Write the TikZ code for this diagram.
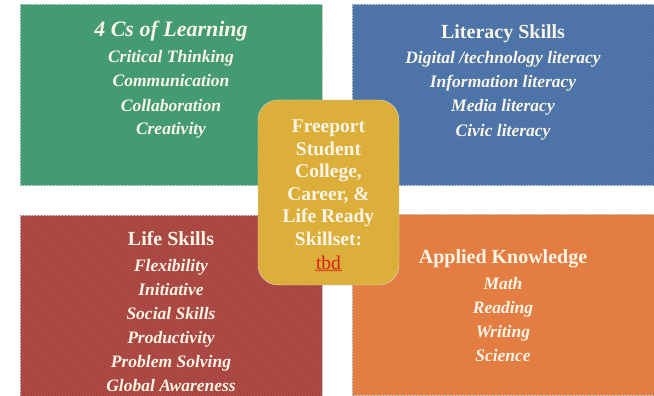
\documentclass[tikz,border=0pt]{standalone}
\usepackage{fontspec}
\setmainfont{Liberation Serif}
\usetikzlibrary{patterns,decorations.pathmorphing}

\definecolor{learngreen}{RGB}{62,152,110}
\definecolor{litblue}{RGB}{72,112,166}
\definecolor{lifered}{RGB}{168,66,60}
\definecolor{knoworange}{RGB}{226,122,60}
\definecolor{coregold}{RGB}{220,174,58}
\definecolor{cream}{RGB}{250,245,230}
\definecolor{tbdred}{RGB}{215,30,20}

\tikzset{
  quad/.style={rectangle, draw=black!20, line width=0.6pt, inner sep=0pt,
    minimum width=302pt, minimum height=181pt, fill=#1,
    postaction={pattern=north west lines, pattern color=#1!90!white}},
  head/.style={anchor=base, text=cream, font=\fontsize{20}{22}\selectfont\bfseries},
  item/.style={anchor=base, text=cream, font=\fontsize{17.5}{20}\selectfont\bfseries\itshape},
}

\begin{document}
\begin{tikzpicture}[x=1pt,y=-1pt]
  \useasboundingbox (0,0) rectangle (654,396);

  % the four quadrants
  \node (learning) at (171,95) [quad=learngreen] {};
  \node (literacy) at (503,95) [quad=litblue] {};
  \node (life) at (171,306) [quad=lifered] {};
  \node (applied) at (503,305) [quad=knoworange] {};

  \node (learnhead) at (171,37) [head, font=\fontsize{22}{24}\selectfont\bfseries\itshape] {4 Cs of Learning};
  \foreach \txt [count=\i] in {Critical Thinking, Communication, Collaboration, Creativity}
    \node (learn\i) at (171,39+24*\i) [item] {\txt};

  \node (lithead) at (503,39) [head] {Literacy Skills};
  \foreach \txt [count=\i] in {Digital /technology literacy, Information literacy, Media literacy, Civic literacy}
    \node (lit\i) at (503,40+24*\i) [item] {\txt};

  \node (lifehead) at (171,245) [head] {Life Skills};
  \foreach \txt [count=\i] in {Flexibility, Initiative, Social Skills, Productivity, Problem Solving, Global Awareness}
    \node (life\i) at (171,247+24*\i) [item] {\txt};

  \node (appliedhead) at (503,263) [head] {Applied Knowledge};
  \foreach \txt [count=\i] in {Math, Reading, Writing, Science}
    \node (applied\i) at (503,265+24*\i) [item] {\txt};

  % centre box
  \node (core) at (328.5,192.5) [rectangle, rounded corners=20pt, fill=coregold, draw=black!15,
    minimum width=141pt, minimum height=185pt] {};
  \node (coretext) at (328.5,183) [align=center, text=cream,
    font=\fontsize{19.5}{22.5}\selectfont\bfseries]
    {Freeport\\Student\\College,\\Career, \&\\Life Ready\\Skillset:};
  \node (tbd) at (328.5,269) [anchor=base, text=tbdred, inner sep=1pt,
    font=\fontsize{19.5}{22}\selectfont] {tbd};
  \draw[tbdred, line width=0.5pt, decorate, decoration={snake, amplitude=0.7pt, segment length=2.5pt}]
    (tbd.south west) -- (tbd.south east);
\end{tikzpicture}
\end{document}
